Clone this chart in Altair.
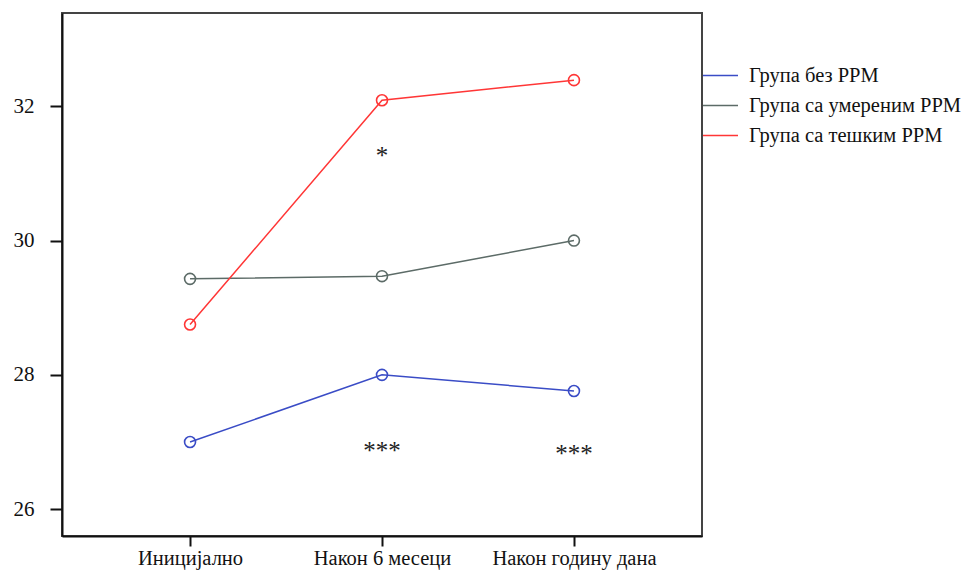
import altair as alt
import pandas as pd

times = ["Иницијално", "Након 6 месеци", "Након годину дана"]
groups = ["Група без РРМ", "Група са умереним РРМ", "Група са тешким  РРМ"]
colors = ["#3a4cc6", "#5c6b67", "#ff3636"]

vals_none = [27.0, 28.0, 27.76]
vals_moderate = [29.43, 29.47, 30.0]
vals_severe = [28.75, 32.09, 32.39]

star_times = ["Након 6 месеци", "Након 6 месеци", "Након годину дана"]
star_values = [31.26, 26.87, 26.82]
star_texts = ["*", "***", "***"]

rows = []
for g, vals in zip(groups, [vals_none, vals_moderate, vals_severe]):
    for t, v in zip(times, vals):
        rows.append({"time": t, "group": g, "value": v})
df = pd.DataFrame(rows)
stars = pd.DataFrame({"time": star_times, "value": star_values, "text": star_texts})

font = "Liberation Serif"

x_enc = alt.X(
    "time:N",
    sort=times,
    scale=alt.Scale(type="point", padding=0.667, domain=times),
    axis=alt.Axis(
        title=None, labelAngle=0, labelFont=font, labelFontSize=20.5, labelColor="#111",
        tickSize=10, tickWidth=2, tickColor="#111", domainColor="#111", domainWidth=2,
        labelPadding=2, grid=False,
    ),
)
y_enc = alt.Y(
    "value:Q",
    scale=alt.Scale(domain=[25.6, 33.39], nice=False, zero=False),
    axis=alt.Axis(
        title=None, values=[26, 28, 30, 32], format="d", labelFont=font, labelFontSize=21,
        labelColor="#111", tickSize=12, tickWidth=2, tickColor="#111", domainColor="#111",
        domainWidth=2, labelPadding=16, grid=False,
    ),
)
color_enc = alt.Color(
    "group:N",
    scale=alt.Scale(domain=groups, range=colors),
    legend=alt.Legend(
        title=None, orient="none", legendX=640, legendY=44, symbolType="stroke",
        symbolSize=1225, symbolStrokeWidth=1.5, labelFont=font, labelFontSize=20.5,
        labelColor="#111", labelOffset=10, rowPadding=1, padding=0, labelLimit=400,
    ),
)

base = alt.Chart(df)
lines = base.mark_line(strokeWidth=1.5).encode(x=x_enc, y=y_enc, color=color_enc)
points = base.mark_point(shape="circle", filled=False, size=120, strokeWidth=1.6, opacity=1).encode(
    x=x_enc, y=y_enc, color=alt.Color("group:N", scale=alt.Scale(domain=groups, range=colors), legend=None)
)
text = alt.Chart(stars).mark_text(font=font, fontSize=25, color="#222", baseline="middle").encode(
    x=alt.X("time:N", sort=times), y="value:Q", text="text:N"
)

chart = (
    alt.layer(lines, points, text)
    .properties(
        width=640,
        height=523,
        background="white",
        autosize=alt.AutoSizeParams(type="none"),
        padding={"left": 54, "top": 5, "right": 263, "bottom": 35},
    )
    .configure_view(stroke="#444", strokeWidth=2)
)

chart.save("out.html", embed_options={"renderer": "svg", "actions": False})
